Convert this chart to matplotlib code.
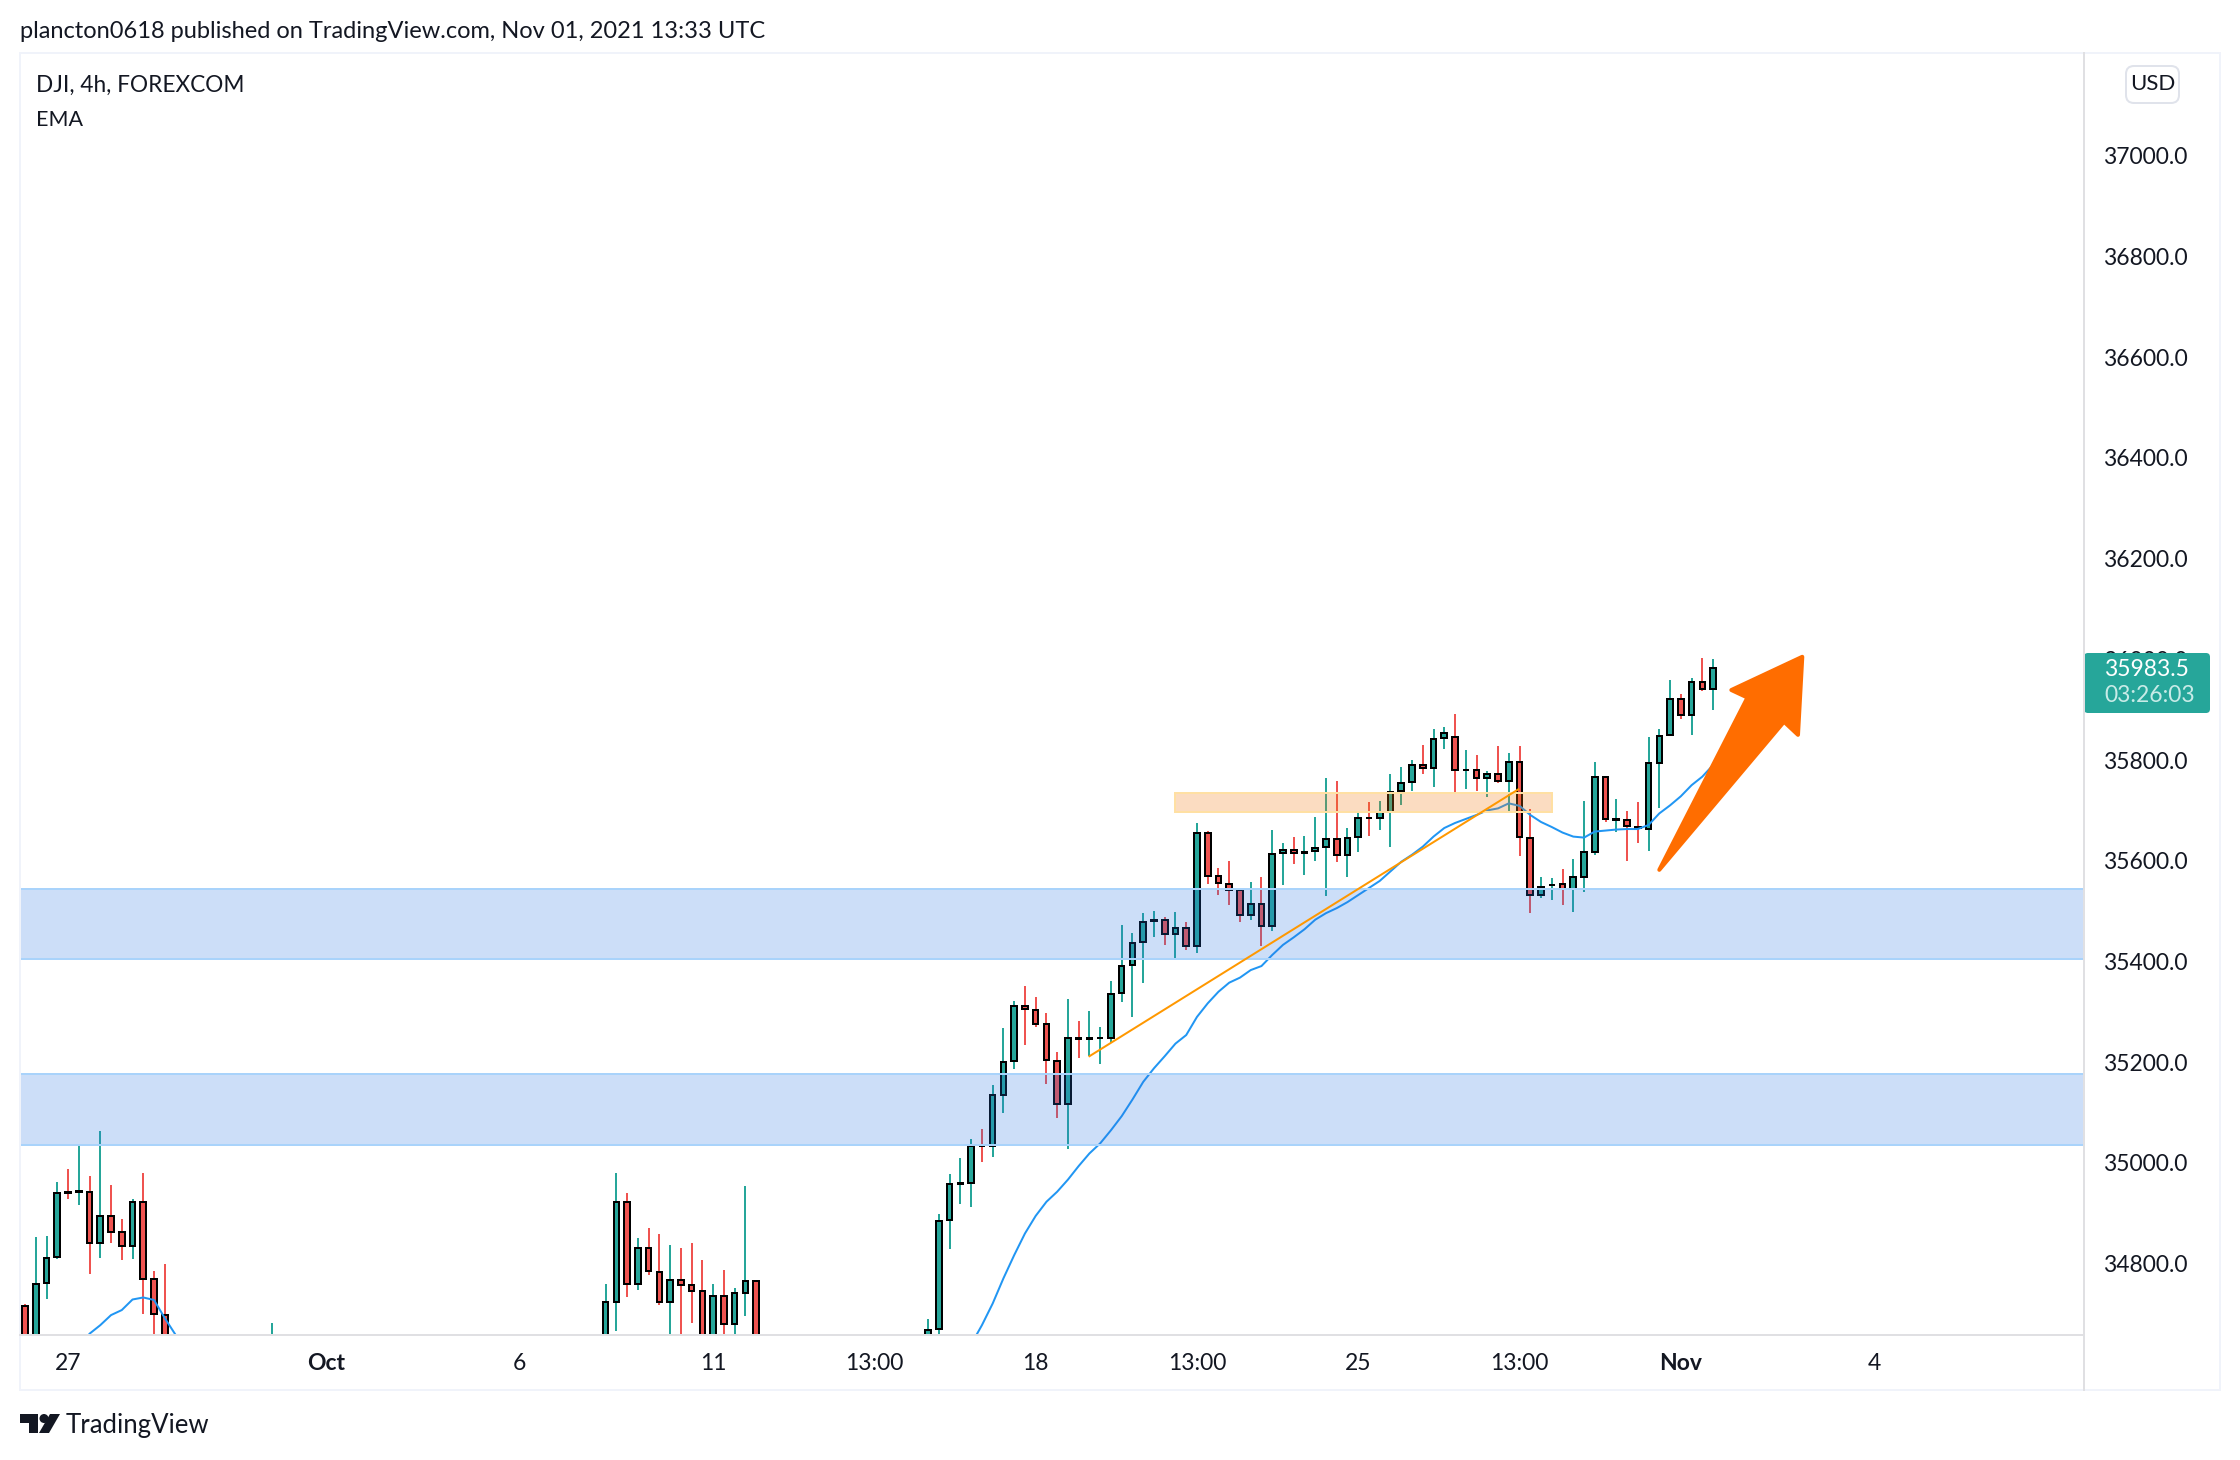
import matplotlib
matplotlib.use('Agg')
import matplotlib.pyplot as plt
from matplotlib.patches import FancyBboxPatch, Rectangle, Polygon, Circle

plt.rcParams['font.family'] = ['Lato', 'DejaVu Sans']

# candles, x is the bar number on the 4h time scale
bar_idx = [0, 1, 2, 3, 4, 5, 6, 7, 8, 9, 10, 11, 12, 13, 23,
           54, 55, 56, 57, 58, 59, 60, 61, 62, 63, 64, 65, 66, 67, 68,
           84, 85, 86, 87, 88, 89, 90, 91, 92, 93, 94, 95, 96, 97, 98, 99,
           100, 101, 102, 103, 104, 105, 106, 107, 108, 109, 110, 111, 112, 113, 114, 115,
           116, 117, 118, 119, 120, 121, 122, 123, 124, 125, 126, 127, 128, 129, 130, 131,
           132, 133, 134, 135, 136, 137, 138, 139, 140, 141, 142, 143, 144, 145, 146, 147,
           148, 149, 150, 151, 152, 153, 154, 155, 156, 157]
opens = [34716, 34640, 34761, 34813, 34943, 34942, 34943, 34841, 34894, 34862, 34835, 34923, 34769, 34699, 34600,
         34640, 34725, 34923, 34760, 34832, 34784, 34725, 34768, 34757, 34745, 34640, 34735, 34680, 34741, 34766,
         34650, 34670, 34886, 34959, 34960, 35034, 35034, 35135, 35202, 35312, 35304, 35275, 35202, 35117, 35248, 35247,
         35248, 35249, 35337, 35393, 35438, 35481, 35482, 35455, 35466, 35431, 35656, 35569, 35554, 35541, 35492, 35515,
         35470, 35615, 35622, 35616, 35619, 35627, 35644, 35611, 35647, 35685, 35685, 35696, 35738, 35756, 35791, 35784,
         35843, 35845, 35780, 35780, 35764, 35773, 35758, 35797, 35646, 35532, 35551, 35554, 35544, 35568, 35618, 35767,
         35681, 35681, 35667, 35664, 35795, 35849, 35921, 35889, 35955, 35942]
highs = [34721, 34853, 34855, 34962, 34988, 35034, 34974, 35064, 34956, 34889, 34929, 34980, 34786, 34800, 34682,
         34760, 34980, 34941, 34851, 34871, 34859, 34837, 34832, 34841, 34807, 34760, 34788, 34752, 34954, 34766,
         34690, 34899, 34979, 35009, 35048, 35067, 35155, 35268, 35321, 35351, 35329, 35298, 35220, 35325, 35282, 35302,
         35270, 35361, 35472, 35456, 35496, 35500, 35488, 35498, 35478, 35675, 35659, 35585, 35600, 35541, 35558, 35568,
         35661, 35636, 35647, 35649, 35687, 35765, 35759, 35665, 35697, 35717, 35719, 35772, 35786, 35800, 35830, 35862,
         35865, 35891, 35820, 35810, 35778, 35828, 35814, 35828, 35702, 35568, 35565, 35583, 35603, 35718, 35796, 35767,
         35722, 35698, 35716, 35845, 35861, 35959, 35931, 35963, 36002, 36000]
lows = [34600, 34620, 34730, 34810, 34929, 34917, 34780, 34811, 34841, 34807, 34809, 34700, 34640, 34620, 34600,
        34620, 34667, 34734, 34747, 34778, 34718, 34640, 34640, 34683, 34620, 34620, 34640, 34640, 34697, 34620,
        34640, 34650, 34829, 34919, 34913, 35001, 35012, 35100, 35187, 35235, 35270, 35157, 35090, 35028, 35209, 35212,
        35197, 35239, 35320, 35290, 35358, 35449, 35433, 35403, 35423, 35416, 35554, 35533, 35512, 35479, 35483, 35431,
        35460, 35552, 35594, 35572, 35600, 35530, 35598, 35568, 35618, 35649, 35661, 35628, 35711, 35739, 35772, 35747,
        35822, 35733, 35743, 35739, 35726, 35755, 35698, 35610, 35497, 35526, 35522, 35512, 35498, 35538, 35611, 35677,
        35657, 35599, 35635, 35619, 35704, 35849, 35881, 35849, 35937, 35899]
closes = [34600, 34760, 34811, 34941, 34941, 34944, 34841, 34894, 34862, 34835, 34923, 34769, 34700, 34640, 34640,
          34725, 34923, 34760, 34832, 34785, 34725, 34768, 34758, 34746, 34640, 34735, 34680, 34741, 34766, 34640,
          34668, 34885, 34959, 34960, 35034, 35033, 35134, 35201, 35312, 35306, 35276, 35204, 35117, 35249, 35247, 35248,
          35249, 35335, 35392, 35437, 35479, 35482, 35455, 35466, 35431, 35656, 35570, 35555, 35542, 35493, 35515, 35470,
          35614, 35622, 35615, 35618, 35626, 35644, 35611, 35646, 35684, 35684, 35696, 35737, 35755, 35791, 35784, 35842,
          35853, 35780, 35780, 35764, 35773, 35758, 35797, 35647, 35532, 35548, 35552, 35544, 35568, 35618, 35767, 35683,
          35683, 35669, 35666, 35794, 35847, 35921, 35889, 35955, 35942, 35983.5]

# EMA, low values run off the bottom of the chart
ema_idx = [5, 6, 7, 8, 9, 10, 11, 12, 13, 14, 15, 87, 88, 89, 90, 91, 92, 93, 94, 95, 96, 97, 98, 99,
           100, 101, 102, 103, 104, 105, 106, 107, 108, 109, 110, 111, 112, 113, 114, 115, 116, 117,
           118, 119, 120, 121, 122, 123, 124, 125, 126, 127, 128, 129, 130, 131, 132, 133, 134, 135,
           136, 137, 138, 139, 140, 141, 142, 143, 144, 145, 146, 147, 148, 149, 150, 151, 152, 153,
           154, 155, 156, 157]
ema_vals = [34630, 34661, 34678, 34698, 34708, 34729, 34733, 34728, 34692, 34659, 34620, 34600, 34640, 34678, 34721,
            34771, 34817, 34860, 34895, 34923, 34943, 34967, 34994, 35019, 35039, 35065, 35093, 35126, 35161, 35188,
            35212, 35237, 35254, 35290, 35317, 35340, 35358, 35368, 35383, 35391, 35413, 35433, 35448, 35464, 35483,
            35496, 35506, 35518, 35532, 35546, 35560, 35579, 35598, 35612, 35628, 35648, 35665, 35675, 35683, 35691,
            35700, 35704, 35714, 35709, 35691, 35677, 35667, 35656, 35648, 35646, 35658, 35660, 35662, 35663, 35663,
            35671, 35694, 35710, 35728, 35750, 35767, 35790]

# drawings on the chart
blue_zones = [(35405, 35544), (35036, 35177)]
orange_box = (107, 142, 35696, 35734)
trend_idx = [99, 138.9]
trend_vals = [35212, 35742]
arrow_idx = [152.0, 160.2, 158.7, 165.3, 164.9, 163.6]
arrow_vals = [35582, 35924, 35939, 36005, 35850, 35876]

price_ticks = [34800, 35000, 35200, 35400, 35600, 35800, 36000, 36200, 36400, 36600, 36800, 37000]
time_ticks = [4, 28, 46, 64, 79, 94, 109, 124, 139, 154, 172]
time_labels = ['27', 'Oct', '6', '11', '13:00', '18', '13:00', '25', '13:00', 'Nov', '4']

GREEN = '#26a69a'
RED = '#ef5350'
TEXT = '#131722'
PX = 0.72  # one pixel in points at dpi 100

fig = plt.figure(figsize=(22.4, 14.6), dpi=100, facecolor='white')
ax = fig.add_axes([20 / 2240, 125 / 1460, 2064 / 2240, 1282 / 1460])
ax.set_xlim(-0.465, 191.5)
ax.set_ylim(34658.5, 37203.7)

for name in ax.spines:
    ax.spines[name].set_visible(False)

# candles
colors = [GREEN if c >= o else RED for o, c in zip(opens, closes)]
ax.vlines(bar_idx, lows, highs, colors=colors, linewidth=2 * PX, zorder=2)
bottoms = [min(o, c) for o, c in zip(opens, closes)]
heights = [max(abs(c - o), 0.5) for o, c in zip(opens, closes)]
ax.bar(bar_idx, heights, bottom=bottoms, width=0.52, color=colors, edgecolor='black',
       linewidth=2 * PX, zorder=3)

ax.plot(ema_idx, ema_vals, color='#2196f3', linewidth=2 * PX, zorder=4)

for low, high in blue_zones:
    ax.axhspan(low, high, facecolor='#2673e1', alpha=0.23, edgecolor='none', zorder=5)
    ax.axhline(low, color='#a9d3fb', linewidth=2 * PX, zorder=5)
    ax.axhline(high, color='#a9d3fb', linewidth=2 * PX, zorder=5)

x0, x1, y0, y1 = orange_box
ax.add_patch(Rectangle((x0, y0), x1 - x0, y1 - y0, facecolor='#f07a10', alpha=0.26,
                       edgecolor='none', zorder=6))
ax.add_patch(Rectangle((x0, y0), x1 - x0, y1 - y0, facecolor='none', edgecolor='#ffe0a3',
                       linewidth=2 * PX, zorder=6))
ax.plot(trend_idx, trend_vals, color='#ff9800', linewidth=2 * PX, zorder=7)
ax.add_patch(Polygon(list(zip(arrow_idx, arrow_vals)), closed=True, facecolor='#ff6d00',
                     edgecolor='#ff6d00', linewidth=4 * PX, joinstyle='round', zorder=8))

# axes labels
ax.yaxis.tick_right()
ax.set_yticks(price_ticks)
ax.set_yticklabels([f'{p:.1f}' for p in price_ticks])
ax.tick_params(axis='y', length=0, pad=14, labelsize=16.5, labelcolor=TEXT)
ax.set_xticks(time_ticks)
ax.set_xticklabels(time_labels)
ax.tick_params(axis='x', length=0, pad=13, labelsize=16.5, labelcolor=TEXT)
for lab in ax.get_xticklabels():
    if lab.get_text() in ('Oct', 'Nov'):
        lab.set_fontweight('bold')

# page furniture in pixel coordinates
page = fig.add_axes([0, 0, 1, 1], facecolor='none')
page.set_xlim(0, 2240)
page.set_ylim(1460, 0)
page.axis('off')

page.add_patch(Rectangle((20, 53), 2200, 1337, fill=False, edgecolor='#f0f3fa', linewidth=2 * PX))
page.plot([2084, 2084], [53, 1390], color='#e0e0e3', linewidth=2 * PX)
page.plot([20, 2084], [1335, 1335], color='#e0e0e3', linewidth=2 * PX)

page.text(20, 31, 'plancton0618 published on TradingView.com, Nov 01, 2021 13:33 UTC',
          fontsize=17, color=TEXT, va='center')
page.text(36, 85, 'DJI, 4h, FOREXCOM', fontsize=16.3, color=TEXT, va='center')
page.text(36, 120, 'EMA', fontsize=15.5, color=TEXT, va='center')

page.add_patch(FancyBboxPatch((2126, 66), 53, 37, boxstyle='round,pad=0,rounding_size=8',
                              facecolor='white', edgecolor='#e0e3eb', linewidth=2 * PX))
page.text(2152.5, 84.5, 'USD', fontsize=16, color=TEXT, ha='center', va='center')

page.add_patch(FancyBboxPatch((2084, 653), 126, 60, boxstyle='round,pad=0,rounding_size=4',
                              facecolor=GREEN, edgecolor='none'))
page.text(2146, 669, '35983.5', fontsize=16.5, color='white', ha='center', va='center')
page.text(2150, 696, '03:26:03', fontsize=16.5, color='#c8ebe7', ha='center', va='center')

# TradingView logo
page.add_patch(Polygon([(20, 1414), (38, 1414), (38, 1433), (29, 1433), (29, 1423), (20, 1423)],
                       closed=True, facecolor=TEXT, edgecolor='none'))
page.add_patch(Circle((44, 1418.5), 4.5, facecolor=TEXT, edgecolor='none'))
page.add_patch(Polygon([(50, 1414), (60, 1414), (49, 1433), (39, 1433)],
                       closed=True, facecolor=TEXT, edgecolor='none'))
page.text(66, 1425, 'TradingView', fontsize=18.5, color=TEXT, va='center')

fig.savefig('out.png', dpi=100)
